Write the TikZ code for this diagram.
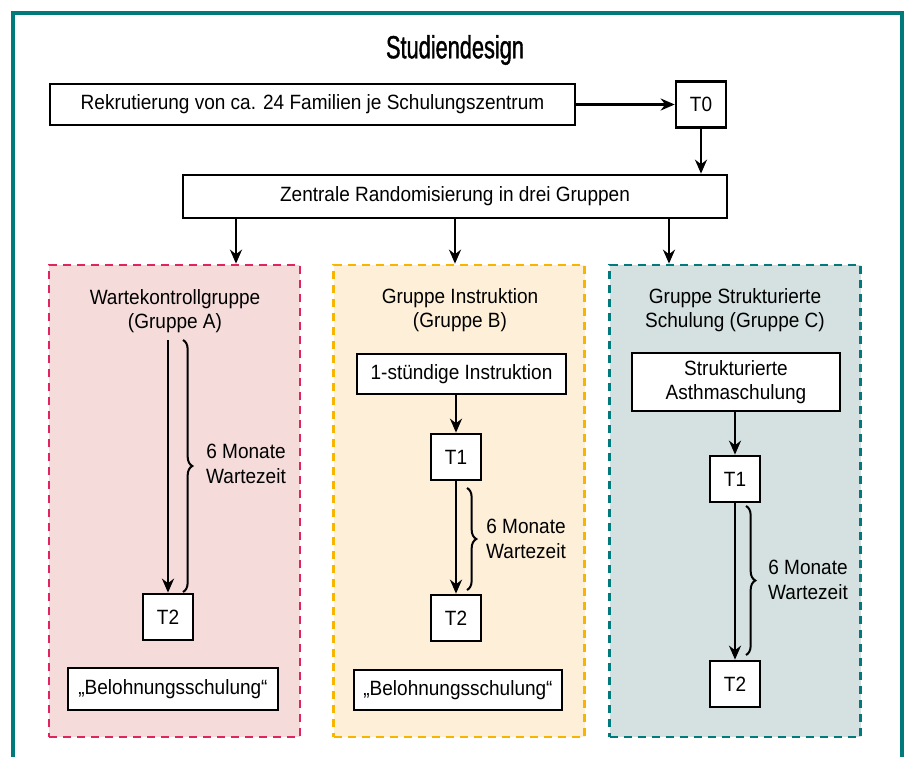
\documentclass[tikz,border=0pt]{standalone}
\usepackage{fontspec}
\setmainfont[FakeStretch=0.92]{Liberation Sans}
\newfontfamily\titlefont[FakeStretch=0.68, FakeBold=1.2]{Liberation Sans}
\usepackage{tikz}
\usetikzlibrary{arrows.meta, decorations.pathreplacing}
\definecolor{framegreen}{HTML}{007A7A}
\definecolor{pinkline}{HTML}{E0245E}
\definecolor{pinkfill}{HTML}{F6DBDB}
\definecolor{amberline}{HTML}{F7B500}
\definecolor{amberfill}{HTML}{FEF0D8}
\definecolor{tealfill}{HTML}{D5E1E1}

\begin{document}
\begin{tikzpicture}[
  x=0.75pt, y=-0.75pt,
  font=\fontsize{15.5}{18.5}\selectfont,
  >={Stealth[length=10.5pt, width=9pt]},
  box/.style={draw, line width=2pt, fill=white, align=center, inner sep=0pt},
  tbox/.style={box, minimum width=37.5pt, minimum height=34.5pt},
  grp/.style={dash pattern=on 6pt off 4.5pt, line width=2pt, minimum width=188.25pt,
              minimum height=354pt, inner sep=0pt},
  flow/.style={->, line width=2pt},
  wait/.style={decorate, decoration={brace, amplitude=7pt}, line width=1.5pt},
  gtitle/.style={align=center},
]
  \useasboundingbox (0,0) rectangle (908,757);
  \clip (0,0) rectangle (908,757);
  % outer frame (open at the bottom)
  \draw[framegreen, line width=3.5pt] (13,13) rectangle (902,790);
  \node[font=\titlefont\fontsize{24}{26}\selectfont] (title) at (455,50) {Studiendesign};
  % recruitment and randomisation
  \node[box, minimum width=393.75pt, minimum height=30.75pt] (rekr) at (312.5,104.5)
    {Rekrutierung von ca. 24 Familien je Schulungszentrum};
  \node[tbox] (t0) at (701,104.5) {T0};
  \node[box, minimum width=408pt, minimum height=32.25pt] (rand) at (455,196.5)
    {Zentrale Randomisierung in drei Gruppen};
  \draw[flow] (rekr) -- (t0);
  \draw[flow] (t0) -- (rand.north -| t0);
  % group boxes
  \node[grp, draw=pinkline, fill=pinkfill] (grpA) at (174.5,501) {};
  \node[grp, draw=amberline, fill=amberfill] (grpB) at (459,501) {};
  \node[grp, draw=framegreen, fill=tealfill] (grpC) at (735,501) {};
  \draw[flow] (rand.south -| 236,0) -- (grpA.north -| 236,0);
  \draw[flow] (rand.south -| 455,0) -- (grpB.north -| 455,0);
  \draw[flow] (rand.south -| 669,0) -- (grpC.north -| 669,0);
  % group A
  \node[gtitle] (titA) at (175,311) {Wartekontrollgruppe\\(Gruppe A)};
  \coordinate (startA) at (168,340);
  \node[tbox] (t2A) at (168,617) {T2};
  \node[box, minimum width=157.5pt, minimum height=31.5pt] (belA) at (173,689)
    {„Belohnungsschulung“};
  \draw[flow] (startA) -- (t2A);
  \draw[wait] (183,340) -- (183,592);
  \node[gtitle] (waitA) at (246,464) {6 Monate\\Wartezeit};
  % group B
  \node[gtitle] (titB) at (460,310) {Gruppe Instruktion\\(Gruppe B)};
  \node[box, minimum width=156.75pt, minimum height=30pt] (instr) at (461.5,374)
    {1-stündige Instruktion};
  \node[tbox] (t1B) at (456,457) {T1};
  \node[tbox] (t2B) at (456,618) {T2};
  \node[box, minimum width=156pt, minimum height=30pt] (belB) at (458,690)
    {„Belohnungsschulung“};
  \draw[flow] (instr.south -| t1B) -- (t1B);
  \draw[flow] (t1B) -- (t2B);
  \draw[wait] (467,488) -- (467,590);
  \node[gtitle] (waitB) at (526,539) {6 Monate\\Wartezeit};
  % group C
  \node[gtitle] (titC) at (735,310) {Gruppe Strukturierte\\Schulung (Gruppe C)};
  \node[box, minimum width=156pt, minimum height=43.5pt] (asth) at (736,382)
    {Strukturierte\\Asthmaschulung};
  \node[tbox] (t1C) at (735,479) {T1};
  \node[tbox] (t2C) at (735,684) {T2};
  \draw[flow] (asth.south -| t1C) -- (t1C);
  \draw[flow] (t1C) -- (t2C);
  \draw[wait] (746,506) -- (746,655);
  \node[gtitle] (waitC) at (808,580) {6 Monate\\Wartezeit};
\end{tikzpicture}
\end{document}
